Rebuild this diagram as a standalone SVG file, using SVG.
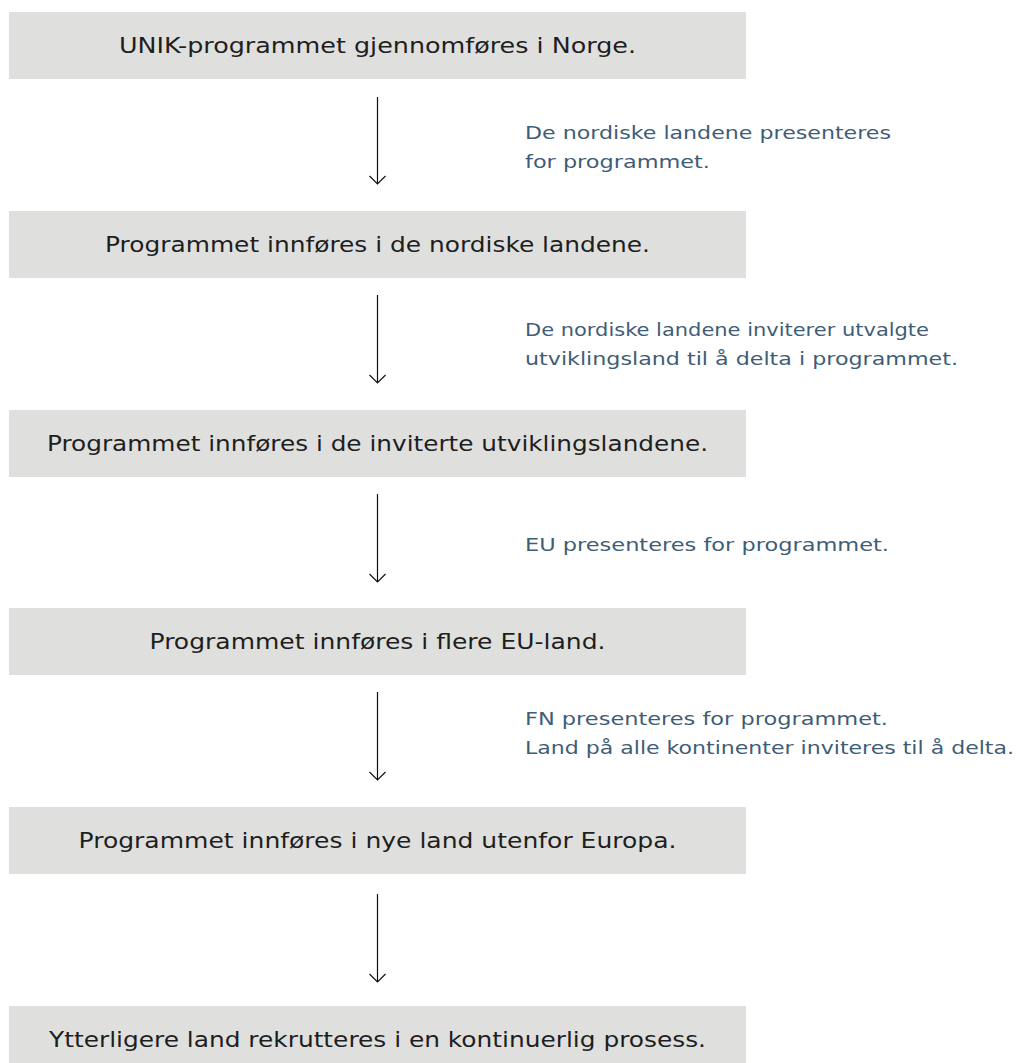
<svg xmlns="http://www.w3.org/2000/svg" width="1018" height="1063" viewBox="0 0 1018 1063">
<style>
.box{fill:#dfe0de}
.bt{font-family:"DejaVu Sans","Liberation Sans",sans-serif;font-size:21px;fill:#1e1e1e;text-anchor:middle}
.lb{font-family:"DejaVu Sans","Liberation Sans",sans-serif;font-size:18px;fill:#3e5d76}
.ar{stroke:#111;stroke-width:1.2;fill:none}
</style>
<rect width="1018" height="1063" fill="#ffffff"/>
<g id="n1"><rect class="box" x="9" y="12" width="737" height="67"/><text class="bt" x="377.5" y="53" textLength="517" lengthAdjust="spacingAndGlyphs">UNIK-programmet gjennomføres i Norge.</text></g>
<g id="n2"><rect class="box" x="9" y="211" width="737" height="67"/><text class="bt" x="377.5" y="252" textLength="545" lengthAdjust="spacingAndGlyphs">Programmet innføres i de nordiske landene.</text></g>
<g id="n3"><rect class="box" x="9" y="410" width="737" height="67"/><text class="bt" x="377.5" y="451" textLength="661" lengthAdjust="spacingAndGlyphs">Programmet innføres i de inviterte utviklingslandene.</text></g>
<g id="n4"><rect class="box" x="9" y="608" width="737" height="67"/><text class="bt" x="377.5" y="649" textLength="456" lengthAdjust="spacingAndGlyphs">Programmet innføres i flere EU-land.</text></g>
<g id="n5"><rect class="box" x="9" y="807" width="737" height="67"/><text class="bt" x="377.5" y="848" textLength="598" lengthAdjust="spacingAndGlyphs">Programmet innføres i nye land utenfor Europa.</text></g>
<g id="n6"><rect class="box" x="9" y="1006" width="737" height="67"/><text class="bt" x="377.5" y="1047" textLength="657" lengthAdjust="spacingAndGlyphs">Ytterligere land rekrutteres i en kontinuerlig prosess.</text></g>
<g id="connectors">
<path class="ar" d="M377.5 97V184M369.5 176L377.5 184L385.5 176"/>
<path class="ar" d="M377.5 295V383M369.5 375L377.5 383L385.5 375"/>
<path class="ar" d="M377.5 494V582M369.5 574L377.5 582L385.5 574"/>
<path class="ar" d="M377.5 692V780M369.5 772L377.5 780L385.5 772"/>
<path class="ar" d="M377.5 894V982M369.5 974L377.5 982L385.5 974"/>
</g>
<g id="labels">
<text class="lb" x="525" y="139" textLength="366" lengthAdjust="spacingAndGlyphs">De nordiske landene presenteres</text>
<text class="lb" x="525" y="168" textLength="185" lengthAdjust="spacingAndGlyphs">for programmet.</text>
<text class="lb" x="525" y="336" textLength="404" lengthAdjust="spacingAndGlyphs">De nordiske landene inviterer utvalgte</text>
<text class="lb" x="525" y="365" textLength="433" lengthAdjust="spacingAndGlyphs">utviklingsland til å delta i programmet.</text>
<text class="lb" x="525" y="551" textLength="364" lengthAdjust="spacingAndGlyphs">EU presenteres for programmet.</text>
<text class="lb" x="525" y="725" textLength="363" lengthAdjust="spacingAndGlyphs">FN presenteres for programmet.</text>
<text class="lb" x="525" y="754" textLength="489" lengthAdjust="spacingAndGlyphs">Land på alle kontinenter inviteres til å delta.</text>
</g>
</svg>
